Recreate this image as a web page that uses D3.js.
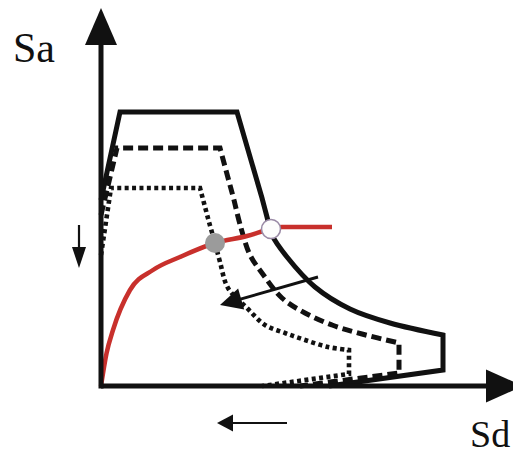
<!DOCTYPE html>
<html>
<head>
<meta charset="utf-8">
<script src="https://cdn.jsdelivr.net/npm/d3@7"></script>
<style>
  html, body { margin: 0; padding: 0; background: #fff; }
  svg { display: block; }
  text { font-family: "Liberation Serif", "Times New Roman", serif; fill: #111; }
</style>
</head>
<body>
<svg id="chart" width="513" height="456"></svg>
<script>
// Demand spectra (ADRS, Sd vs Sa) for three damping levels, plus the capacity curve.
// Each spectrum: linear ramp + plateau, curved velocity branch, then the displacement tail.
const solidRamp  = [[0, 46.5], [4.75, 68.5], [34, 68.5], [40.25, 47]];
const solidDecay = [[40.25, 47], [41.5, 42.25], [42.75, 37.75], [46.5, 32.25], [53.5, 24.75],
                    [62.25, 19.25], [72.25, 15.75], [85.5, 12.75]];
const solidTail  = [[85.5, 12.75], [85.5, 4], [57, 0]];

const dashedRamp  = [[0, 42.75], [4, 59.5], [29.75, 59.5], [33.25, 46.5]];
const dashedDecay = [[33.25, 46.5], [35, 39.5], [37.25, 32.75], [40.25, 28.25], [45.25, 22],
                     [51, 18.25], [57.75, 15.25], [65.25, 13], [74.5, 10.75]];
const dashedTail  = [[74.5, 10.75], [74.5, 3.25], [49.75, 0]];

const dottedRamp  = [[0, 32.75], [2.5, 49.5], [24.75, 49.5], [27, 41]];
const dottedDecay = [[27, 41], [28.5, 35.75], [29.75, 31], [31.75, 24.5], [36.5, 19.5],
                     [41, 15.25], [46, 13.25], [51, 11.5], [56.75, 9.75], [62, 9]];
const dottedTail  = [[62, 9], [62, 3], [40.25, 0]];

// Capacity curve
const capacity = [[0, 0], [1.4, 8.25], [3, 14], [7.25, 24], [13, 29], [19.75, 32.25],
                  [28.5, 35.75], [36.5, 37.5], [42.5, 39.25], [45.25, 39.75], [57.75, 39.75]];

// Performance points: reduced-demand intersection and elastic-demand intersection
const perfReduced = [28.5, 35.75];
const perfElastic = [42.5, 39.25];

const axisLabels = ["Sd", "Sa"];

const svg = d3.select("#chart");
const x = d3.scaleLinear().domain([0, 100]).range([101, 501]);
const y = d3.scaleLinear().domain([0, 95]).range([386, 6]);

const lin = d3.line().x(d => x(d[0])).y(d => y(d[1])).curve(d3.curveLinear);
const crv = d3.line().x(d => x(d[0])).y(d => y(d[1])).curve(d3.curveCatmullRom.alpha(0.5));

// join the three pieces into one continuous sub-path so dash patterns flow through
function spectrumPath(ramp, decay, tail) {
  return lin(ramp) + crv(decay).replace(/^M/, "L") + lin(tail).replace(/^M/, "L");
}

const spectra = [
  { d: spectrumPath(solidRamp, solidDecay, solidTail), dash: null, w: 5 },
  { d: spectrumPath(dashedRamp, dashedDecay, dashedTail), dash: "10,5", w: 5 },
  { d: spectrumPath(dottedRamp, dottedDecay, dottedTail), dash: "4,3.4", w: 4.6 }
];

svg.selectAll("path.spectrum").data(spectra).join("path")
  .attr("class", "spectrum")
  .attr("d", s => s.d)
  .attr("fill", "none")
  .attr("stroke", "#111")
  .attr("stroke-width", s => s.w)
  .attr("stroke-dasharray", s => s.dash)
  .attr("stroke-linejoin", "miter");

// capacity curve
svg.append("path")
  .attr("d", d3.line().x(d => x(d[0])).y(d => y(d[1])).curve(d3.curveMonotoneX)(capacity))
  .attr("fill", "none")
  .attr("stroke", "#c8302c")
  .attr("stroke-width", 4.5)
  .attr("stroke-linecap", "butt");

// axes with arrowheads
const g = svg.append("g");
g.append("line")
  .attr("x1", x(0)).attr("y1", y(0)).attr("x2", x(97)).attr("y2", y(0))
  .attr("stroke", "#111").attr("stroke-width", 5);
g.append("line")
  .attr("x1", x(0)).attr("y1", y(0) + 2.5).attr("x2", x(0)).attr("y2", y(86))
  .attr("stroke", "#111").attr("stroke-width", 5);

function arrowHead(tip, dir, len, half) {
  const [tx, ty] = tip, [dx, dy] = dir;
  const bx = tx - dx * len, by = ty - dy * len;
  const px = -dy * half, py = dx * half;
  return `M${tx},${ty}L${bx + px},${by + py}L${bx - px},${by - py}Z`;
}
g.append("path").attr("d", arrowHead([x(105.5), y(0)], [1, 0], 37, 16.5)).attr("fill", "#111");
g.append("path").attr("d", arrowHead([x(0), y(94.5)], [0, -1], 37, 16)).attr("fill", "#111");

// performance points
svg.append("circle")
  .attr("cx", x(perfReduced[0])).attr("cy", y(perfReduced[1]))
  .attr("r", 10).attr("fill", "#9b9b9b");
svg.append("circle")
  .attr("cx", x(perfElastic[0])).attr("cy", y(perfElastic[1]))
  .attr("r", 9.5).attr("fill", "#fdfdfd")
  .attr("stroke", "#9a8aa6").attr("stroke-width", 1.6);

// annotation arrows
function annotArrow(from, to, w, len, half) {
  const x1 = x(from[0]), y1 = y(from[1]), x2 = x(to[0]), y2 = y(to[1]);
  const L = Math.hypot(x2 - x1, y2 - y1);
  const dir = [(x2 - x1) / L, (y2 - y1) / L];
  svg.append("line")
    .attr("x1", x1).attr("y1", y1)
    .attr("x2", x2 - dir[0] * len * 0.8).attr("y2", y2 - dir[1] * len * 0.8)
    .attr("stroke", "#111").attr("stroke-width", w);
  svg.append("path").attr("d", arrowHead([x2, y2], dir, len, half)).attr("fill", "#111");
}
// demand reduction with increasing damping
annotArrow([54.25, 27.25], [29.75, 20.25], 3, 22, 11);
// Sa decreases
annotArrow([-5.5, 40.25], [-5.5, 29.5], 2.2, 21, 7);
// Sd decreases
annotArrow([46.5, -9.25], [29, -9.25], 2.2, 16, 8.5);

// axis labels
svg.append("text").attr("x", 470).attr("y", 447)
  .attr("font-size", 38).text(axisLabels[0]);
svg.append("text").attr("x", 13).attr("y", 62)
  .attr("font-size", 42).text(axisLabels[1]);
</script>
</body>
</html>
